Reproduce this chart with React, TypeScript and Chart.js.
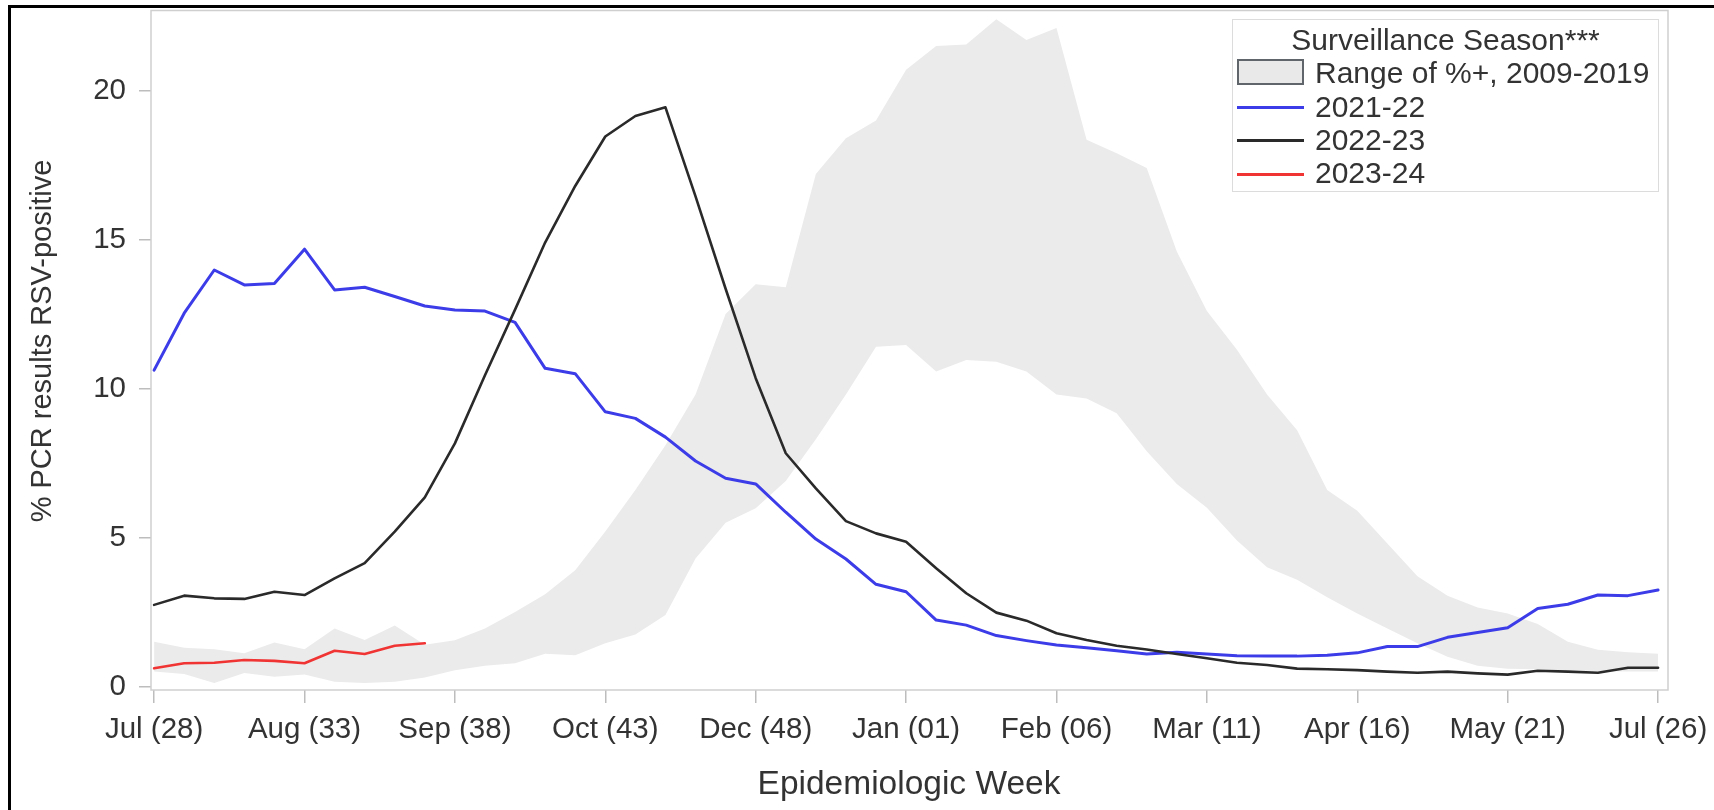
import React, { useEffect, useRef } from "react";
import { Chart, registerables } from "chart.js";

Chart.register(...registerables);

// Epidemiologic weeks shown on the x axis (week 28 through week 26 of the next year)
const weeks = [
  28, 29, 30, 31, 32, 33, 34, 35, 36, 37, 38, 39, 40, 41, 42, 43, 44, 45, 46, 47, 48, 49, 50, 51, 52,
  1, 2, 3, 4, 5, 6, 7, 8, 9, 10, 11, 12, 13, 14, 15, 16, 17, 18, 19, 20, 21, 22, 23, 24, 25, 26,
];

const xTickWeeks = [28, 33, 38, 43, 48, 1, 6, 11, 16, 21, 26];
const xTickLabels = [
  "Jul (28)", "Aug (33)", "Sep (38)", "Oct (43)", "Dec (48)", "Jan (01)",
  "Feb (06)", "Mar (11)", "Apr (16)", "May (21)", "Jul (26)",
];
const yTicks = [0, 5, 10, 15, 20];

// Range of %+ 2009-2019 (lower and upper bounds)
const rangeLow = [
  0.5, 0.42, 0.12, 0.45, 0.33, 0.4, 0.16, 0.12, 0.16, 0.3,
  0.55, 0.7, 0.78, 1.1, 1.05, 1.45, 1.75, 2.4, 4.3, 5.5,
  5.98, 6.9, 8.3, 9.8, 11.4, 11.46, 10.57, 10.96, 10.9, 10.57,
  9.8, 9.67, 9.17, 7.9, 6.8, 6.0, 4.9, 4.0, 3.58, 3.0,
  2.45, 1.95, 1.45, 1.0, 0.7, 0.6, 0.58, 0.55, 0.52, 0.5, 0.5,
];
const rangeHigh = [
  1.5, 1.3, 1.25, 1.12, 1.48, 1.25, 1.95, 1.56, 2.05, 1.4,
  1.55, 1.95, 2.5, 3.1, 3.9, 5.2, 6.6, 8.1, 9.8, 12.5,
  13.5, 13.4, 17.2, 18.4, 19.0, 20.7, 21.5, 21.55, 22.4, 21.7,
  22.1, 18.35, 17.9, 17.4, 14.6, 12.6, 11.3, 9.8, 8.6, 6.6,
  5.9, 4.8, 3.7, 3.05, 2.65, 2.45, 2.1, 1.5, 1.23, 1.15, 1.1,
];

const season2021 = [
  10.62, 12.53, 13.98, 13.48, 13.53, 14.68, 13.31, 13.4, 13.09, 12.77,
  12.64, 12.6, 12.22, 10.68, 10.5, 9.22, 9.0, 8.37, 7.57, 6.99,
  6.8, 5.85, 4.95, 4.28, 3.43, 3.18, 2.23, 2.06, 1.71, 1.54,
  1.39, 1.3, 1.2, 1.09, 1.15, 1.09, 1.03, 1.02, 1.02, 1.05,
  1.13, 1.34, 1.34, 1.65, 1.81, 1.97, 2.62, 2.76, 3.07, 3.05, 3.24,
];
const season2022 = [
  2.74, 3.05, 2.96, 2.94, 3.18, 3.07, 3.63, 4.14, 5.2, 6.35,
  8.16, 10.45, 12.65, 14.9, 16.8, 18.46, 19.15, 19.44, 16.45, 13.35,
  10.35, 7.83, 6.65, 5.55, 5.14, 4.86, 3.97, 3.13, 2.48, 2.21,
  1.79, 1.56, 1.37, 1.24, 1.09, 0.95, 0.8, 0.72, 0.6, 0.58,
  0.55, 0.5, 0.46, 0.5, 0.44, 0.4, 0.53, 0.5, 0.46, 0.63, 0.63,
];
const season2023 = [0.61, 0.78, 0.8, 0.89, 0.86, 0.78, 1.2, 1.09, 1.37, 1.45];

const FAMILY = '"Liberation Sans", Arial, Helvetica, sans-serif';
const TEXT = "#333333";
const BAND = "#ebebeb";
const BLUE = "#3c3ce8";
const BLACK = "#2a2a2a";
const RED = "#f03434";

const pts = (arr: number[]) => arr.map((v, i) => ({ x: i, y: v }));

export default function App() {
  const ref = useRef<HTMLCanvasElement | null>(null);

  useEffect(() => {
    if (!ref.current) return;
    const framePlugin = {
      id: "plotFrame",
      afterDatasetsDraw(chart: any) {
        const { ctx, chartArea: a } = chart;
        ctx.save();
        ctx.strokeStyle = "#cfcfcf";
        ctx.lineWidth = 1.5;
        ctx.strokeRect(a.left, a.top, a.right - a.left, a.bottom - a.top);
        ctx.restore();
      },
    };

    const chart = new Chart(ref.current, {
      type: "line",
      data: {
        datasets: [
          {
            label: "low",
            data: pts(rangeLow),
            borderWidth: 0,
            borderColor: "rgba(0,0,0,0)",
            pointRadius: 0,
            fill: false,
            order: 10,
          },
          {
            label: "Range of %+, 2009-2019",
            data: pts(rangeHigh),
            borderWidth: 0,
            borderColor: "rgba(0,0,0,0)",
            backgroundColor: BAND,
            pointRadius: 0,
            fill: "-1",
            order: 9,
          },
          {
            label: "2021-22",
            data: pts(season2021),
            borderColor: BLUE,
            borderWidth: 3,
            pointRadius: 0,
            fill: false,
            tension: 0,
            order: 3,
          },
          {
            label: "2022-23",
            data: pts(season2022),
            borderColor: BLACK,
            borderWidth: 2.6,
            pointRadius: 0,
            fill: false,
            tension: 0,
            order: 2,
          },
          {
            label: "2023-24",
            data: pts(season2023),
            borderColor: RED,
            borderWidth: 2.6,
            pointRadius: 0,
            fill: false,
            tension: 0,
            order: 1,
          },
        ],
      } as any,
      options: {
        responsive: false,
        animation: false,
        devicePixelRatio: 1,
        layout: { padding: { left: 0, top: 10.5, right: 46, bottom: 0 } },
        plugins: {
          legend: { display: false },
          tooltip: { enabled: false },
          title: { display: false },
        },
        elements: { line: { borderJoinStyle: "round", borderCapStyle: "round" } },
        scales: {
          x: {
            type: "linear",
            min: -0.103,
            max: 50.33,
            afterBuildTicks: (s: any) => {
              s.ticks = xTickWeeks.map((w) => ({ value: weeks.indexOf(w) }));
            },
            afterFit: (s: any) => {
              s.height = 120;
              s.paddingLeft = 0;
              s.paddingRight = 0;
            },
            ticks: {
              autoSkip: false,
              maxRotation: 0,
              minRotation: 0,
              padding: 9,
              color: TEXT,
              font: { family: FAMILY, size: 29.5 },
              callback: (v: any) => {
                const k = xTickWeeks.indexOf(weeks[Math.round(Number(v))]);
                return k >= 0 ? xTickLabels[k] : "";
              },
            },
            grid: {
              display: true,
              drawOnChartArea: false,
              drawTicks: true,
              tickLength: 13,
              color: "#bdbdbd",
              lineWidth: 1.5,
            },
            border: { display: false },
          },
          y: {
            type: "linear",
            min: -0.117,
            max: 22.69,
            afterBuildTicks: (s: any) => {
              s.ticks = yTicks.map((v) => ({ value: v }));
            },
            afterFit: (s: any) => {
              s.width = 151;
              s.paddingTop = 0;
              s.paddingBottom = 0;
            },
            ticks: {
              padding: 13,
              color: TEXT,
              font: { family: FAMILY, size: 29.5 },
              callback: (v: any) => String(v),
            },
            grid: {
              display: true,
              drawOnChartArea: false,
              drawTicks: true,
              tickLength: 12,
              color: "#bdbdbd",
              lineWidth: 1.5,
            },
            border: { display: false },
          },
        },
      } as any,
      plugins: [framePlugin],
    });
    return () => chart.destroy();
  }, []);

  const legendRow = (cy: number) => ({
    position: "absolute" as const,
    left: 1315,
    top: cy - 18,
    height: 36,
    lineHeight: "36px",
    fontSize: 30,
    whiteSpace: "nowrap" as const,
    color: TEXT,
  });
  const legendLine = (cy: number, color: string) => ({
    position: "absolute" as const,
    left: 1237,
    top: cy - 1.5,
    width: 67,
    height: 3,
    background: color,
  });

  return (
    <div
      style={{
        position: "absolute",
        left: 0,
        top: 0,
        width: 1714,
        height: 810,
        overflow: "hidden",
        background: "#ffffff",
        fontFamily: FAMILY,
      }}
    >
      <canvas
        ref={ref}
        width={1714}
        height={810}
        style={{ position: "absolute", left: 0, top: 0, width: 1714, height: 810 }}
      />
      {/* outer figure border (left and top) */}
      <div
        style={{
          position: "absolute",
          left: 8,
          top: 5,
          width: 1706,
          height: 805,
          borderLeft: "3px solid #000",
          borderTop: "3px solid #000",
          boxSizing: "border-box",
          pointerEvents: "none",
        }}
      />
      {/* axis titles */}
      <div
        style={{
          position: "absolute",
          left: 41,
          top: 341,
          transform: "translate(-50%, -50%) rotate(-90deg)",
          fontSize: 29,
          whiteSpace: "nowrap",
          color: TEXT,
          lineHeight: "34px",
        }}
      >
        % PCR results RSV-positive
      </div>
      <div
        style={{
          position: "absolute",
          left: 909,
          top: 783,
          transform: "translate(-50%, -50%)",
          fontSize: 33.5,
          whiteSpace: "nowrap",
          color: TEXT,
          lineHeight: "40px",
        }}
      >
        Epidemiologic Week
      </div>
      {/* legend */}
      <div
        style={{
          position: "absolute",
          left: 1232,
          top: 19,
          width: 427,
          height: 173,
          border: "1.5px solid #dcdcdc",
          boxSizing: "border-box",
          background: "#ffffff",
        }}
      />
      <div
        style={{
          position: "absolute",
          left: 1232,
          width: 427,
          top: 22,
          height: 36,
          lineHeight: "36px",
          fontSize: 30,
          textAlign: "center",
          color: TEXT,
          whiteSpace: "nowrap",
        }}
      >
        Surveillance Season***
      </div>
      <div
        style={{
          position: "absolute",
          left: 1237,
          top: 59,
          width: 67,
          height: 26,
          background: "#e9e9e9",
          border: "2px solid #5f656b",
          boxSizing: "border-box",
        }}
      />
      <div style={legendRow(72.7)}>Range of %+, 2009-2019</div>
      <div style={legendLine(107, BLUE)} />
      <div style={legendRow(106.7)}>2021-22</div>
      <div style={legendLine(140.5, BLACK)} />
      <div style={legendRow(140)}>2022-23</div>
      <div style={legendLine(174, RED)} />
      <div style={legendRow(173.3)}>2023-24</div>
    </div>
  );
}
